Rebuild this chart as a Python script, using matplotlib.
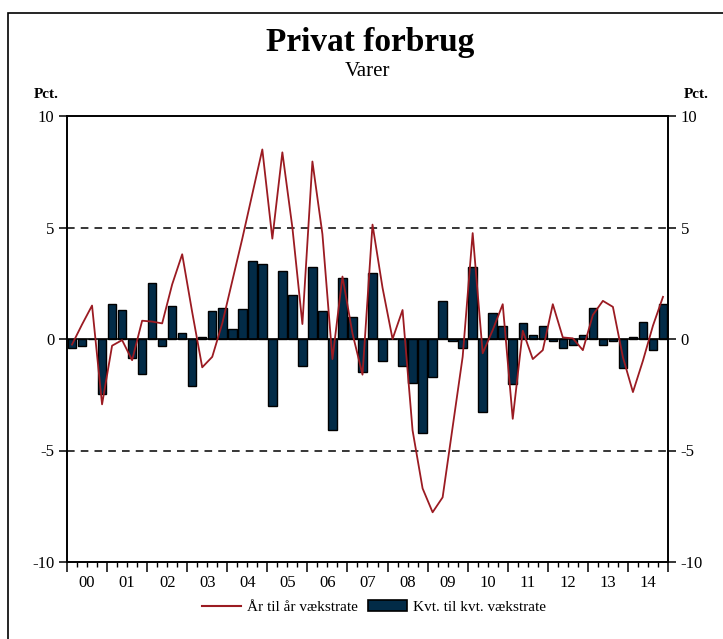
import matplotlib
matplotlib.use("Agg")
import matplotlib.pyplot as plt
import matplotlib.patches as mpatches
from matplotlib.lines import Line2D
from matplotlib.ticker import FixedLocator, FuncFormatter
import numpy as np

years = ["00", "01", "02", "03", "04", "05", "06", "07", "08", "09", "10", "11", "12", "13", "14"]

kvt = [-0.40, -0.30, 0.02, -2.45,
       1.56, 1.32, -0.85, -1.56,
       2.53, -0.31, 1.50, 0.27,
       -2.12, 0.08, 1.25, 1.41,
       0.43, 1.34, 3.52, 3.36,
       -3.02, 3.05, 1.99, -1.22,
       3.24, 1.25, -4.09, 2.72,
       1.00, -1.49, 2.96, -1.00,
       0.02, -1.22, -1.98, -4.23,
       -1.71, 1.71, -0.07, -0.40,
       3.24, -3.27, 1.16, 0.60,
       -2.04, 0.70, 0.18, 0.60,
       -0.07, -0.40, -0.25, 0.18,
       1.41, -0.25, -0.07, -1.29,
       0.10, 0.74, -0.49, 1.56]

aar = [-0.25, 0.65, 1.50, -2.93,
       -0.30, -0.05, -0.95, 0.82,
       0.78, 0.70, 2.45, 3.80,
       1.20, -1.27, -0.80, 0.70,
       2.60, 4.50, 6.50, 8.50,
       4.50, 8.37, 5.00, 0.67,
       7.96, 4.70, -0.90, 2.80,
       0.25, -1.60, 5.13, 2.30,
       0.00, 1.30, -4.10, -6.70,
       -7.77, -7.10, -3.95, -0.80,
       4.75, -0.64, 0.40, 1.56,
       -3.58, 0.37, -0.90, -0.50,
       1.56, 0.07, 0.03, -0.50,
       1.08, 1.71, 1.44, -0.82,
       -2.38, -0.97, 0.60, 1.89]

yticks = [-10, -5, 0, 5, 10]

serif = ["Liberation Serif", "DejaVu Serif"]
plt.rcParams["font.family"] = serif

W, H = 723, 639
fig = plt.figure(figsize=(W / 100, H / 100), dpi=100)

# outer frame
fig.patches.append(mpatches.Rectangle((8 / W, -0.2), 1.5, 1 - 13 / H + 0.2,
                                      transform=fig.transFigure, fill=False,
                                      edgecolor="black", linewidth=1.2))

ax = fig.add_axes([67 / W, 1 - 562 / H, (668 - 67) / W, (562 - 116) / H])

x = np.arange(len(kvt))
ax.bar(x, kvt, width=0.85, color="#022b47", edgecolor="black", linewidth=1.0, zorder=2,
       label="Kvt. til kvt. vækstrate")
ax.plot(x, aar, color="#9b1b22", linewidth=1.3, zorder=3, label="År til år vækstrate")

ax.axhline(0, color="black", linewidth=1.2, zorder=2.5)
for v in (5, -5):
    ax.axhline(v, color="black", linewidth=1.1, linestyle=(0, (5, 4)), zorder=1, clip_on=False)

ax.set_xlim(-0.5, len(kvt) - 0.5)
ax.set_ylim(-10, 10)

for s in ax.spines.values():
    s.set_linewidth(1.4)

ax.set_yticks(yticks)
ax.set_yticklabels([str(v) for v in yticks])
ax.tick_params(axis="y", which="both", direction="out", length=6, width=1.1,
               left=True, right=True, labelleft=True, labelright=True, labelsize=12, pad=3)

nq = len(kvt)
major = np.arange(-0.5, nq, 4)
minor = np.arange(-0.5, nq + 0.01, 1)
ax.xaxis.set_major_locator(FixedLocator(major))
ax.xaxis.set_minor_locator(FixedLocator(minor))
ax.xaxis.set_major_formatter(FuncFormatter(lambda v, p: ""))


def minor_fmt(v, p):
    k = (v - 1.5) / 4
    if abs(k - round(k)) < 1e-6 and 0 <= round(k) < len(years):
        return years[int(round(k))]
    return ""


ax.xaxis.set_minor_formatter(FuncFormatter(minor_fmt))
ax.tick_params(axis="x", which="major", direction="out", length=7, width=1.1)
ax.tick_params(axis="x", which="minor", direction="out", length=3.5, width=1.0,
               labelsize=12, pad=6)

fig.text(370 / W, 1 - 42 / H, "Privat forbrug", ha="center", va="center",
         fontsize=24, fontweight="bold")
fig.text(368 / W, 1 - 72 / H, "Varer", ha="center", va="center", fontsize=15)
fig.text(46 / W, 1 - 95 / H, "Pct.", ha="center", va="center", fontsize=11, fontweight="bold")
fig.text(696 / W, 1 - 95 / H, "Pct.", ha="center", va="center", fontsize=11, fontweight="bold")

handles = [Line2D([0], [0], color="#9b1b22", linewidth=1.5),
           mpatches.Patch(facecolor="#022b47", edgecolor="black", linewidth=1.2)]
fig.legend(handles, ["År til år vækstrate", "Kvt. til kvt. vækstrate"],
           loc="center", bbox_to_anchor=(374 / W, 1 - 607 / H), ncol=2, frameon=False,
           fontsize=11, handlelength=2.6, handletextpad=0.4, columnspacing=0.6)

fig.savefig("out.png", dpi=100)
